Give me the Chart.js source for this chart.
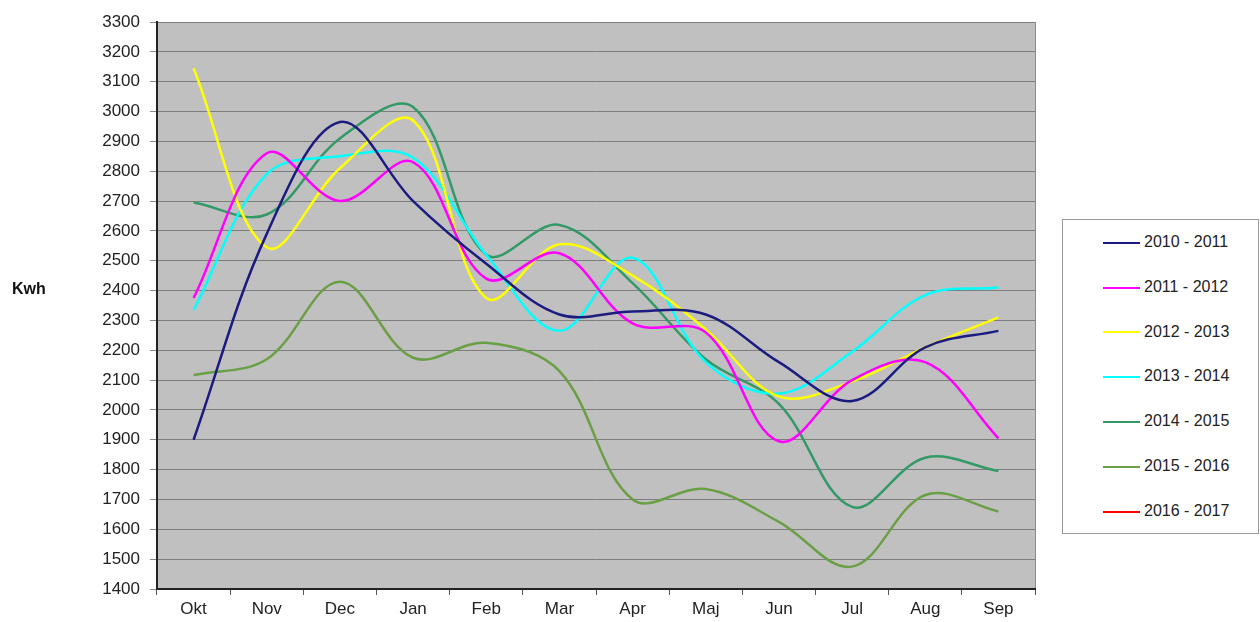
<!DOCTYPE html>
<html>
<head>
<meta charset="utf-8">
<script src="https://cdn.jsdelivr.net/npm/chart.js@4"></script>
<style>
  body { margin: 0; background: #fff; }
  #wrap { position: relative; width: 1260px; height: 622px; }
  #kwh { position: absolute; left: 12px; top: 280px; font: bold 16px "Liberation Sans", Arial, sans-serif; color: #111; }
  #legend { position: absolute; left: 1062px; top: 219px; width: 195px; height: 313px; border: 1px solid #9a9a9a; background: #fff; }
  .item { position: absolute; left: 40px; font: 16px "Liberation Sans", Arial, sans-serif; color: #222; }
  .item span { display: inline-block; width: 37px; height: 2px; vertical-align: middle; margin-right: 4px; }
</style>
</head>
<body>
<div id="wrap">
  <canvas id="chart" width="1260" height="622"></canvas>
  <div id="kwh">Kwh</div>
  <div id="legend"></div>
</div>
<script>
// months of the heating year
const months = ['Okt', 'Nov', 'Dec', 'Jan', 'Feb', 'Mar', 'Apr', 'Maj', 'Jun', 'Jul', 'Aug', 'Sep'];

// kWh per month, one array per season
const s2010 = [1900, 2590, 2965, 2700, 2490, 2320, 2330, 2320, 2160, 2030, 2210, 2265];
const s2011 = [2375, 2860, 2700, 2830, 2440, 2525, 2290, 2260, 1895, 2100, 2160, 1905];
const s2012 = [3145, 2545, 2810, 2970, 2375, 2555, 2450, 2270, 2045, 2095, 2210, 2310];
const s2013 = [2335, 2790, 2850, 2845, 2520, 2265, 2510, 2160, 2055, 2195, 2385, 2410];
const s2014 = [2695, 2655, 2910, 3015, 2520, 2620, 2425, 2170, 2020, 1675, 1840, 1795];
const s2015 = [2117, 2170, 2430, 2175, 2225, 2130, 1700, 1735, 1625, 1475, 1715, 1660];
const s2016 = [];

const seasons = ['2010 - 2011', '2011 - 2012', '2012 - 2013', '2013 - 2014', '2014 - 2015', '2015 - 2016', '2016 - 2017'];
const colors = ['#1c1c80', '#ff00ff', '#ffff00', '#00ffff', '#339966', '#6a9f45', '#ff0000'];
const values = [s2010, s2011, s2012, s2013, s2014, s2015, s2016];

// plot background + right border
const plotBg = {
  id: 'plotBg',
  beforeDraw(chart) {
    const { ctx, chartArea: a } = chart;
    ctx.save();
    ctx.fillStyle = '#c0c0c0';
    ctx.fillRect(a.left, a.top, a.right - a.left, a.bottom - a.top);
    ctx.strokeStyle = '#8a8a8a';
    ctx.lineWidth = 1;
    ctx.beginPath();
    ctx.moveTo(a.right + 0.5, a.top);
    ctx.lineTo(a.right + 0.5, a.bottom);
    ctx.stroke();
    ctx.restore();
  }
};

const font = { family: '"Liberation Sans", Arial, sans-serif', size: 17 };

new Chart(document.getElementById('chart'), {
  type: 'line',
  data: {
    labels: months,
    datasets: seasons.map((s, i) => ({
      label: s,
      data: values[i],
      borderColor: colors[i],
      backgroundColor: colors[i],
      borderWidth: 2.5,
      pointRadius: 0,
      tension: 0.36,
      fill: false
    }))
  },
  options: {
    responsive: false,
    animation: false,
    layout: { padding: { top: 22, right: 225, bottom: 0, left: 0 } },
    plugins: { legend: { display: false }, tooltip: { enabled: false } },
    scales: {
      x: {
        offset: true,
        grid: { offset: true, drawOnChartArea: false, tickLength: 6, color: '#555' },
        border: { color: '#222', width: 2 },
        ticks: { font: font, color: '#222', padding: 4 },
        afterFit(scale) { scale.height = 33; }
      },
      y: {
        min: 1400,
        max: 3300,
        ticks: { stepSize: 100, font: font, color: '#222', padding: 10, callback: v => String(v) },
        grid: { color: '#7d7d7d', lineWidth: 1, tickLength: 7, tickColor: '#888' },
        border: { color: '#222', width: 2 },
        afterFit(scale) { scale.width = 157; }
      }
    }
  },
  plugins: [plotBg]
});

// legend box built from the series list
const legend = document.getElementById('legend');
seasons.forEach((s, i) => {
  const d = document.createElement('div');
  d.className = 'item';
  d.style.top = (13 + i * 44.8) + 'px';
  d.innerHTML = '<span style="background:' + colors[i] + '"></span>' + s;
  legend.appendChild(d);
});
</script>
</body>
</html>
